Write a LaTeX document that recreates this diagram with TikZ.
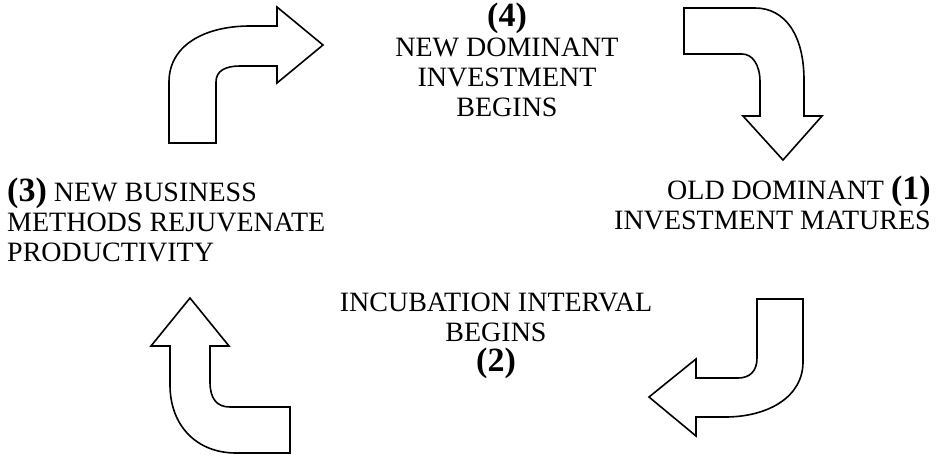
\documentclass[tikz,border=0pt]{standalone}
\usepackage{fontspec}
\setmainfont{Liberation Serif}
\usetikzlibrary{positioning}

\newcommand{\stepno}[1]{{\fontsize{34}{30}\selectfont\bfseries(#1)}}

\begin{document}
\begin{tikzpicture}[
  x=1pt, y=-1pt,
  % Text styles
  caption/.style={font=\fontsize{28}{30}\selectfont, inner sep=0pt},
  % Block arrow style
  bigarrow/.style={draw, line width=1.6pt, line join=miter, fill=white}
]

\useasboundingbox (0,0) rectangle (937,455);

% ================= TEXT =================

\node[caption, align=center] (newdom) at (507,60)
  {\stepno{4}\\NEW DOMINANT\\INVESTMENT\\BEGINS};
\node[caption, align=right, anchor=east] (olddom) at (931,203)
  {OLD DOMINANT \stepno{1}\\INVESTMENT MATURES};
\node[caption, align=center] (incub) at (496,336)
  {INCUBATION INTERVAL\\BEGINS\\\stepno{2}};
\node[caption, align=left, anchor=west] (newbiz) at (7,220)
  {\stepno{3} NEW BUSINESS\\METHODS REJUVENATE\\PRODUCTIVITY};

% ================= ARROWS =================

% (3) -> (4): up, then right
\draw[bigarrow] (169,143) -- (169,82) .. controls (169,45) and (205,26) .. (250,26)
  -- (277,26) -- (277,7) -- (323,45) -- (277,83) -- (277,66) -- (240,66)
  .. controls (225,66) and (216,71) .. (216,82) -- (216,143) -- cycle;

% (4) -> (1): right, then down
\draw[bigarrow] (684,8) -- (755,8) .. controls (785,8) and (804,35) .. (804,80)
  -- (804,116) -- (822,116) -- (783,160) -- (743,116) -- (760,116) -- (760,82)
  .. controls (760,64) and (752,54) .. (742,54) -- (684,54) -- cycle;

% (1) -> (2): down, then left
\draw[bigarrow] (757,299) -- (803,299) -- (803,362) .. controls (803,397) and (768,417) .. (725,417)
  -- (696,417) -- (696,436) -- (649,397) -- (696,359) -- (696,378) -- (738,378)
  .. controls (750,378) and (757,371) .. (757,358) -- cycle;

% (2) -> (3): left, then up
\draw[bigarrow] (290,407) -- (290,453) -- (236,453) .. controls (196,453) and (170,425) .. (170,385)
  -- (170,346) -- (151,346) -- (190,298) -- (229,346) -- (210,346) -- (210,382)
  .. controls (210,399) and (217,407) .. (230,407) -- cycle;

\end{tikzpicture}
\end{document}
